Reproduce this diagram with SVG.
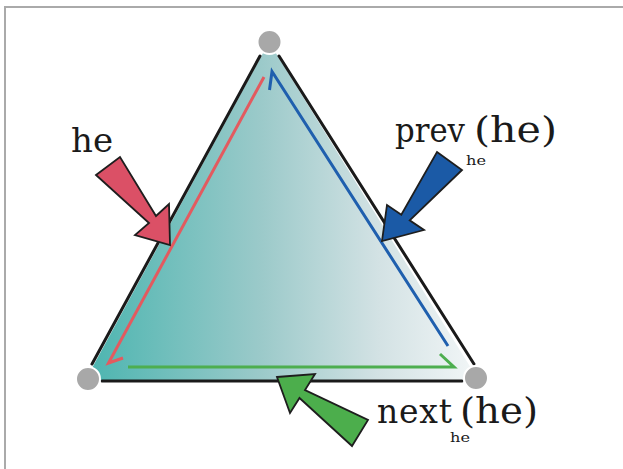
<svg xmlns="http://www.w3.org/2000/svg" width="623" height="469" viewBox="0 0 623 469">
<defs>
<linearGradient id="fillGrad" x1="88" y1="0" x2="476" y2="0" gradientUnits="userSpaceOnUse">
<stop offset="0" stop-color="#4cb5b0"/>
<stop offset="0.45" stop-color="#9ccaca"/>
<stop offset="0.75" stop-color="#d3e2e4"/>
<stop offset="1" stop-color="#f2f6f7"/>
</linearGradient>
<style>
.edge{stroke:#1a1a1a;stroke-width:3;fill:none;stroke-linecap:round}
.vtx{fill:#a8a8a8;stroke:#ffffff;stroke-width:2}
.he{stroke-width:3;fill:none;stroke-linejoin:miter;stroke-linecap:butt}
.ptr{stroke:#1e1e1e;stroke-width:1.8;stroke-linejoin:miter}
.lbl{font-family:"DejaVu Serif","Liberation Serif",serif;fill:#1a1a1a}
</style>
</defs>
<rect width="623" height="469" fill="#ffffff"/>
<path d="M5,469 V7 H623" fill="none" stroke="#aaaaaa" stroke-width="2"/>

<g id="face">
<polygon points="269,42 85,381 479,381" fill="url(#fillGrad)"/>
</g>

<g id="connectors">
<line class="edge" x1="260" y1="56" x2="92" y2="364"/>
<line class="edge" x1="279" y1="56" x2="474" y2="364"/>
<line class="edge" x1="102" y1="381" x2="462" y2="381"/>
<polyline class="he" stroke="#e35a5f" points="264,77 108.5,363 123,358"/>
<polyline class="he" stroke="#1f5fae" points="269.5,90 272,71.5 448,346"/>
<polyline class="he" stroke="#4dae4f" points="128,367 454,367 440,354"/>
</g>

<g id="v-top"><circle class="vtx" cx="269.5" cy="42" r="12"/></g>
<g id="v-left"><circle class="vtx" cx="88" cy="379" r="12"/></g>
<g id="v-right"><circle class="vtx" cx="476" cy="378" r="12"/></g>

<g id="ptr-he">
<polygon class="ptr" fill="#db5066" points="96,175 120,157 156,216 169,204 170,245 135,235 149,223"/>
<text class="lbl" x="71" y="152" font-size="34">he</text>
</g>

<g id="ptr-prev">
<polygon class="ptr" fill="#1b5aa6" points="437,152 462,170 409.7,220.3 424,230 382,241 387,205 401.3,214.7"/>
<text class="lbl" x="395" y="142" font-size="33" textLength="70" lengthAdjust="spacingAndGlyphs">prev</text>
<text class="lbl" x="466" y="165" font-size="13" textLength="20" lengthAdjust="spacingAndGlyphs">he</text>
<text class="lbl" x="474" y="142" font-size="35" textLength="83" lengthAdjust="spacingAndGlyphs">(he)</text>
</g>

<g id="ptr-next">
<polygon class="ptr" fill="#4cae4c" points="277,377 315,374 305,390 368,420 352,446 299.5,398 290,413"/>
<text class="lbl" x="377" y="423" font-size="33" textLength="75">next</text>
<text class="lbl" x="450" y="442" font-size="13" textLength="20" lengthAdjust="spacingAndGlyphs">he</text>
<text class="lbl" x="460" y="423" font-size="35" textLength="78" lengthAdjust="spacingAndGlyphs">(he)</text>
</g>
</svg>
